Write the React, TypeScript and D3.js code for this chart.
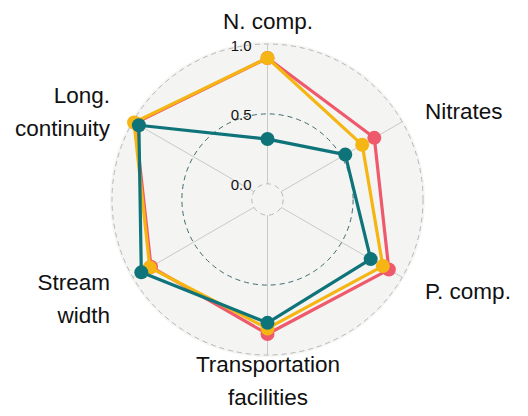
import React, { useEffect, useRef } from "react";
import * as d3 from "d3";

const axes = ["N. comp.", "Nitrates", "P. comp.", "Transportation facilities", "Stream width", "Long. continuity"];
const seriesNames = ["Series A", "Series B", "Series C"];
const seriesColors = ["#EE5A6C", "#F5B512", "#0E7479"];
const seriesA = [0.90, 0.77, 0.89, 0.85, 0.85, 0.98];
const seriesB = [0.90, 0.67, 0.84, 0.81, 0.86, 0.99];
const seriesC = [0.32, 0.53, 0.74, 0.77, 0.93, 0.95];
const gridValues = [0, 0.5, 1];
const gridLabels = ["0.0", "0.5", "1.0"];

const W = 528, H = 416;
const CX = 267.5, CY = 199.5;

export default function App() {
  const ref = useRef<SVGSVGElement>(null);
  useEffect(() => {
    const svg = d3.select(ref.current);
    svg.selectAll("*").remove();
    const r = d3.scaleLinear().domain([0, 1]).range([15.7, 155.5]);
    const ang = d3.scaleLinear().domain([0, axes.length]).range([0, 2 * Math.PI]);
    const g = svg.append("g").attr("transform", `translate(${CX},${CY})`);
    const font = "'Liberation Sans', Arial, Helvetica, sans-serif";

    g.append("circle").attr("r", r(1) + 2).attr("fill", "#F4F4F2");

    // axis lines
    axes.forEach((_, i) => {
      const a = ang(i);
      g.append("line")
        .attr("x1", r(0) * Math.sin(a)).attr("y1", -r(0) * Math.cos(a))
        .attr("x2", r(1) * Math.sin(a)).attr("y2", -r(1) * Math.cos(a))
        .attr("stroke", "#C9C9C7").attr("stroke-width", 1);
    });

    gridValues.forEach((v, i) => {
      g.append("circle").attr("r", r(v)).attr("fill", "none")
        .attr("stroke", v === 0.5 ? "#3E6A70" : "#B8B8B8")
        .attr("stroke-width", 1)
        .attr("stroke-dasharray", "5,4");
      g.append("text").attr("x", -16).attr("y", -r(v) + 6.5)
        .attr("text-anchor", "end").attr("font-family", font).attr("font-size", 15)
        .attr("fill", "#111").text(gridLabels[i]);
    });

    const all = [seriesA, seriesB, seriesC];
    const line = d3.lineRadial<number>()
      .angle((_, i) => ang(i)).radius((d) => r(d)).curve(d3.curveLinearClosed);
    all.forEach((s, k) => {
      g.append("path").attr("d", line(s) as string).attr("fill", "none")
        .attr("stroke", seriesColors[k]).attr("stroke-width", 3.2).attr("stroke-linejoin", "round")
        .attr("data-name", seriesNames[k]);
      s.forEach((v, i) => {
        const a = ang(i);
        g.append("circle").attr("cx", r(v) * Math.sin(a)).attr("cy", -r(v) * Math.cos(a))
          .attr("r", 7).attr("fill", seriesColors[k]);
      });
    });

    // axis labels
    const labelPos: [number, number, string, string[]][] = [
      [268, 29, "middle", ["N. comp."]],
      [425, 119, "start", ["Nitrates"]],
      [425, 299, "start", ["P. comp."]],
      [268, 372, "middle", ["Transportation", "facilities"]],
      [110, 290, "end", ["Stream", "width"]],
      [110, 103, "end", ["Long.", "continuity"]],
    ];
    labelPos.forEach(([x, y, anchor, lines]) => {
      const t = svg.append("text").attr("x", x).attr("y", y).attr("text-anchor", anchor)
        .attr("font-family", font).attr("font-size", 22.5).attr("fill", "#111");
      lines.forEach((ln, j) => {
        t.append("tspan").attr("x", x).attr("dy", j === 0 ? 0 : 32.5).text(ln);
      });
    });
  }, []);
  return (
    <svg ref={ref} width={W} height={H}
      style={{ position: "absolute", left: 0, top: 0, background: "#fff" }} />
  );
}
